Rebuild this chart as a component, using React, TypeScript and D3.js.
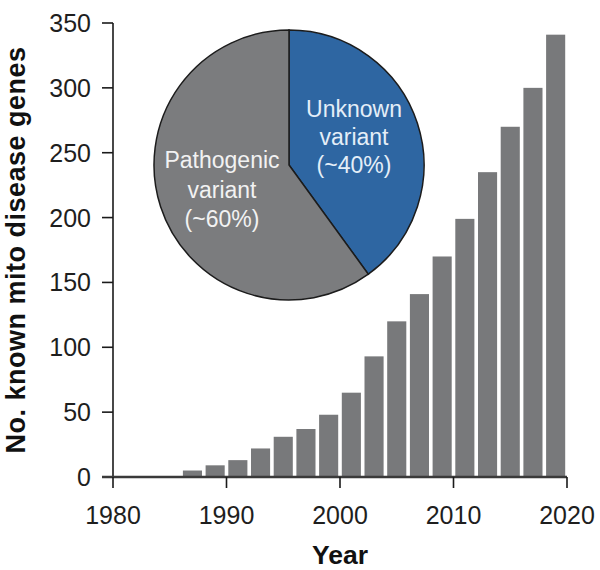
import React from "react";
import * as d3 from "d3";

const years = [1987, 1989, 1991, 1993, 1995, 1997, 1999, 2001, 2003, 2005, 2007, 2009, 2011, 2013, 2015, 2017, 2019];
const genes = [5, 9, 13, 22, 31, 37, 48, 65, 93, 120, 141, 170, 199, 235, 270, 300, 341];
const yTicks = [0, 50, 100, 150, 200, 250, 300, 350];
const xTicks = [1980, 1990, 2000, 2010, 2020];
const pieLabels = ["Unknown", "Pathogenic"];
const pieValues = [40, 60];

const FONT = "'Liberation Sans', Arial, Helvetica, sans-serif";

export default function App() {
  const x = d3.scaleLinear().domain([1980, 2020]).range([113, 567]);
  const y = d3.scaleLinear().domain([0, 350]).range([477, 23]);
  const gap = 3.6;

  const pie = d3.pie<number>().sort(null).startAngle(0).endAngle(2 * Math.PI)(pieValues);
  const arc = d3.arc<d3.PieArcDatum<number>>().innerRadius(0).outerRadius(135);
  const cx = 289;
  const cy = 165;
  const pieColors = ["#2e66a2", "#7b7c7e"];

  return (
    <svg width={600} height={570} style={{ position: "absolute", left: 0, top: 0, background: "#fff" }} fontFamily={FONT}>
      {/* bars */}
      {years.map((yr, i) => {
        const x0 = x(yr - 1) + gap / 2;
        const x1 = x(yr + 1) - gap / 2;
        return <rect key={yr} x={x0} y={y(genes[i])} width={x1 - x0} height={y(0) - y(genes[i])} fill="#78797b" />;
      })}

      {/* y axis */}
      <line x1={113} x2={113} y1={y(350)} y2={y(0)} stroke="#1a1a1a" strokeWidth={1.6} />
      {yTicks.map((t) => (
        <g key={t}>
          <line x1={102} x2={113} y1={y(t)} y2={y(t)} stroke="#1a1a1a" strokeWidth={1.6} />
          <text x={91} y={y(t)} dy="0.36em" textAnchor="end" fontSize={25} fill="#1e1e1e">{t}</text>
        </g>
      ))}

      {/* x axis */}
      <line x1={102} x2={x(2020)} y1={y(0)} y2={y(0)} stroke="#3a3a3a" strokeWidth={2.4} />
      {xTicks.map((t) => (
        <g key={t}>
          <line x1={x(t)} x2={x(t)} y1={y(0)} y2={y(0) + 11} stroke="#1a1a1a" strokeWidth={1.6} />
          <text x={x(t)} y={524} textAnchor="middle" fontSize={25} fill="#1e1e1e">{t}</text>
        </g>
      ))}

      <text x={340} y={564} textAnchor="middle" fontSize={26.5} fontWeight="bold" fill="#111">Year</text>
      <text transform={`translate(25,250) rotate(-90)`} textAnchor="middle" fontSize={27} letterSpacing={0.5} fontWeight="bold" fill="#111">
        No. known mito disease genes
      </text>

      {/* pie */}
      <g transform={`translate(${cx},${cy})`}>
        {pie.map((d, i) => (
          <path key={pieLabels[i]} d={arc(d) || ""} fill={pieColors[i]} stroke="#1c1c1c" strokeWidth={1.5} />
        ))}
      </g>
      <text textAnchor="middle" fontSize={23} fill="#e4eef8">
        <tspan x={354} y={117}>Unknown</tspan>
        <tspan x={354} y={145}>variant</tspan>
        <tspan x={354} y={173}>(~40%)</tspan>
      </text>
      <text textAnchor="middle" fontSize={23} fill="#f2f2f2">
        <tspan x={222} y={168}>Pathogenic</tspan>
        <tspan x={222} y={198}>variant</tspan>
        <tspan x={222} y={227}>(~60%)</tspan>
      </text>
    </svg>
  );
}
